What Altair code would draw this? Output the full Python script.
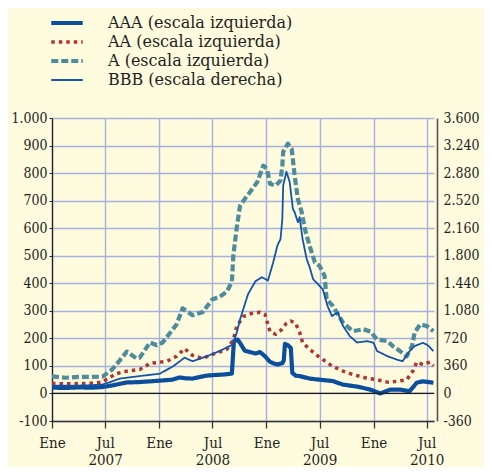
import altair as alt
import pandas as pd

SERIES = ["AAA (escala izquierda)", "AA (escala izquierda)", "A (escala izquierda)", "BBB (escala derecha)"]
COLORS = ["#0b4f9c", "#b3342f", "#4f8c9b", "#1453a8"]
DASHES = [[1, 0], [3.5, 4], [7, 3], [1, 0]]
WIDTHS = [4.2, 3.5, 4.2, 1.8]

aaa_fechas = ["2007-01-01", "2007-02-15", "2007-04-01", "2007-05-15", "2007-06-20", "2007-07-25",
              "2007-08-20", "2007-09-13", "2007-10-20", "2007-12-01", "2008-01-10", "2008-02-15",
              "2008-03-10", "2008-04-01", "2008-04-24", "2008-05-20", "2008-06-12", "2008-07-10",
              "2008-08-10", "2008-09-05", "2008-09-12", "2008-09-25", "2008-10-05", "2008-10-19",
              "2008-11-06", "2008-11-24", "2008-12-10", "2008-12-27", "2009-01-13", "2009-01-24",
              "2009-02-07", "2009-02-24", "2009-03-01", "2009-03-05", "2009-03-15", "2009-03-25",
              "2009-03-30", "2009-04-10", "2009-04-24", "2009-05-28", "2009-07-01", "2009-08-15",
              "2009-09-19", "2009-11-06", "2009-12-21", "2010-01-24", "2010-02-27", "2010-04-01",
              "2010-05-04", "2010-05-28", "2010-06-18", "2010-07-24"]
aaa_valores = [21, 20, 22, 21, 23, 29, 35, 40, 41, 44, 47, 50, 58, 55, 54, 60, 65, 67, 69, 72,
               190, 195, 180, 155, 150, 145, 150, 135, 115, 110, 105, 110, 120, 180, 175, 165,
               75, 65, 63, 54, 50, 45, 32, 25, 14, 0, 14, 14, 8, 39, 44, 39]

aa_fechas = ["2007-01-01", "2007-03-01", "2007-05-15", "2007-06-20", "2007-07-06", "2007-08-09",
             "2007-09-13", "2007-10-27", "2007-12-01", "2008-01-28", "2008-03-01", "2008-03-28",
             "2008-04-24", "2008-05-28", "2008-07-01", "2008-08-19", "2008-09-10", "2008-09-22",
             "2008-10-15", "2008-11-10", "2008-12-10", "2008-12-27", "2009-01-13", "2009-02-01",
             "2009-02-20", "2009-03-10", "2009-03-25", "2009-04-10", "2009-04-24", "2009-05-04",
             "2009-05-28", "2009-07-01", "2009-07-25", "2009-08-15", "2009-09-19", "2009-10-22",
             "2009-12-10", "2010-01-13", "2010-02-18", "2010-03-21", "2010-04-24", "2010-05-15",
             "2010-05-28", "2010-06-18", "2010-07-12", "2010-07-24"]
aa_valores = [36, 35, 37, 41, 51, 72, 81, 87, 109, 117, 135, 163, 138, 127, 142, 160, 195, 245,
              280, 290, 295, 287, 225, 215, 230, 255, 263, 255, 222, 185, 160, 131, 114, 98, 81,
              69, 55, 50, 41, 44, 50, 81, 114, 105, 114, 100]

a_fechas = ["2007-01-01", "2007-02-15", "2007-04-01", "2007-05-15", "2007-06-22", "2007-07-25",
            "2007-08-20", "2007-09-13", "2007-10-16", "2007-10-27", "2007-12-01", "2007-12-24",
            "2008-01-13", "2008-03-01", "2008-03-21", "2008-04-24", "2008-05-28", "2008-07-01",
            "2008-07-25", "2008-08-19", "2008-09-05", "2008-09-10", "2008-09-22", "2008-10-03",
            "2008-10-19", "2008-11-06", "2008-12-01", "2008-12-21", "2009-01-03", "2009-01-13",
            "2009-02-01", "2009-02-18", "2009-02-24", "2009-02-27", "2009-03-15", "2009-03-28",
            "2009-04-07", "2009-04-18", "2009-05-01", "2009-05-12", "2009-05-28", "2009-06-15",
            "2009-07-01", "2009-07-18", "2009-07-25", "2009-08-15", "2009-09-19", "2009-10-22",
            "2009-11-27", "2009-12-21", "2010-01-13", "2010-02-18", "2010-03-07", "2010-04-01",
            "2010-04-24", "2010-05-12", "2010-05-21", "2010-06-09", "2010-07-01", "2010-07-24"]
a_valores = [62, 57, 60, 60, 61, 87, 120, 152, 127, 130, 185, 175, 185, 251, 309, 284, 295, 342,
             350, 370, 405, 500, 605, 682, 706, 731, 768, 827, 815, 761, 755, 773, 828, 877, 907,
             888, 791, 706, 658, 597, 536, 476, 463, 427, 342, 318, 257, 226, 233, 225, 196, 190,
             172, 154, 135, 172, 221, 251, 245, 226]

bbb_fechas = ["2007-01-01", "2007-03-01", "2007-05-15", "2007-06-20", "2007-07-15", "2007-08-19",
              "2007-10-27", "2008-01-04", "2008-02-18", "2008-03-28", "2008-04-24", "2008-06-12",
              "2008-07-25", "2008-09-09", "2008-09-22", "2008-10-03", "2008-10-30", "2008-11-24",
              "2008-12-16", "2009-01-06", "2009-01-24", "2009-02-07", "2009-02-18", "2009-02-24",
              "2009-02-27", "2009-03-07", "2009-03-10", "2009-03-21", "2009-04-01", "2009-04-07",
              "2009-04-18", "2009-04-24", "2009-05-04", "2009-05-18", "2009-05-28", "2009-06-09",
              "2009-07-12", "2009-07-28", "2009-08-12", "2009-09-01", "2009-09-19", "2009-10-12",
              "2009-11-06", "2009-12-10", "2010-01-01", "2010-01-13", "2010-02-18", "2010-03-21",
              "2010-04-10", "2010-05-04", "2010-05-21", "2010-06-18", "2010-07-05", "2010-07-24"]
bbb_valores = [104, 100, 108, 115, 144, 194, 227, 259, 356, 468, 421, 486, 554, 641, 799, 968,
               1296, 1465, 1519, 1476, 1714, 1930, 2020, 2279, 2718, 2848, 2898, 2765, 2412, 2369,
               2239, 2304, 2020, 1757, 1652, 1494, 1361, 1145, 1012, 1058, 882, 749, 666, 684, 662,
               554, 486, 443, 421, 554, 619, 662, 630, 554]

ticks_izq = list(range(-100, 1001, 100))
ticks_der = list(range(-360, 3601, 360))
meses_ticks = [(y, m) for y in (2007, 2008, 2009, 2010) for m in (1, 7)]

TXT = "#231f20"
GRID = "#a6b1dd"
FONT_AX = "DejaVu Serif Condensed, DejaVu Serif"
FONT_LEG = "DejaVu Serif"


def frame(serie, fechas, valores):
    return pd.DataFrame({"fecha": fechas, "valor": valores, "serie": serie})


df_izq = pd.concat([
    frame(SERIES[0], aaa_fechas, aaa_valores),
    frame(SERIES[1], aa_fechas, aa_valores),
    frame(SERIES[2], a_fechas, a_valores),
])
df_der = frame(SERIES[3], bbb_fechas, bbb_valores)
df_cero = pd.DataFrame({"valor": [0]})

fmt = "(datum.value < 0 ? '-' : '') + replace(format(abs(datum.value), ','), ',', '.')"

x_enc = alt.X(
    "fecha:T",
    scale=alt.Scale(domain=[alt.DateTime(year=2007, month=1, date=1),
                            alt.DateTime(year=2010, month=7, date=26)]),
    axis=alt.Axis(
        values=[alt.DateTime(year=y, month=m, date=1) for y, m in meses_ticks],
        labelExpr="month(datum.value) == 0 ? 'Ene' : ['Jul', '' + year(datum.value)]",
        grid=True, gridColor=GRID, gridWidth=1.4,
        domainColor="#333333", domainWidth=1.3, tickColor="#333333", tickWidth=1.3,
        tickSize=7, labelPadding=7, labelLineHeight=17, labelBaseline="top",
        labelAlign="center", labelOverlap=False, labelFlush=False, title=None,
        labelFontSize=15,
    ),
)

legend = alt.Legend(
    orient="none", legendX=7, legendY=-103, title=None, symbolType="M-3,0H3",
    symbolSize=110, labelFont=FONT_LEG, labelFontSize=16, labelColor=TXT, labelOffset=33,
    rowPadding=2, padding=0, labelLimit=400,
)

color = alt.Color("serie:N", scale=alt.Scale(domain=SERIES, range=COLORS), legend=legend)
dash = alt.StrokeDash("serie:N", scale=alt.Scale(domain=SERIES, range=DASHES), legend=legend)
width = alt.StrokeWidth("serie:N", scale=alt.Scale(type="ordinal", domain=SERIES, range=WIDTHS),
                        legend=legend)

y_izq = alt.Y(
    "valor:Q",
    scale=alt.Scale(domain=[-100, 1000], nice=False, zero=False),
    axis=alt.Axis(
        values=ticks_izq, labelExpr=fmt, grid=True, gridColor=GRID, gridWidth=1.4,
        domainColor="#222222", domainWidth=1.3, tickColor="#222222", tickSize=3,
        labelPadding=2, title=None, labelFlush=False, labelFontSize=14,
    ),
)

lineas_izq = alt.Chart(df_izq).mark_line(strokeJoin="round").encode(
    x=x_enc, y=y_izq, color=color, strokeDash=dash, strokeWidth=width,
)
cero = alt.Chart(df_cero).mark_rule(color="#1a1a1a", strokeWidth=1.3).encode(y=y_izq)

lineas_der = alt.Chart(df_der).mark_line(strokeJoin="round").encode(
    x=x_enc,
    y=alt.Y(
        "valor:Q",
        scale=alt.Scale(domain=[-360, 3600], nice=False, zero=False),
        axis=alt.Axis(
            values=ticks_der, labelExpr=fmt, orient="right", grid=False, offset=3,
            domainColor="#555555", domainWidth=1.6, tickSize=0, labelPadding=6,
            title=None, labelFlush=False, labelFontSize=14,
        ),
    ),
    color=color, strokeDash=dash, strokeWidth=width,
)

chart = alt.layer(alt.layer(lineas_izq, cero), lineas_der).resolve_scale(
    y="independent"
).properties(
    width=382, height=303,
    autosize=alt.AutoSizeParams(type="none"),
    padding={"left": 44, "top": 110, "right": 50, "bottom": 46},
    background="#fefbdf",
).configure_view(stroke=None).configure_axis(
    labelFont=FONT_AX, labelColor=TXT,
)

chart.save("out.html", embed_options={"renderer": "svg", "actions": False})
